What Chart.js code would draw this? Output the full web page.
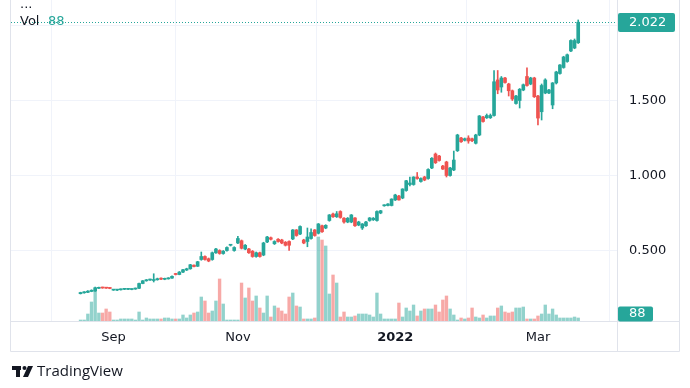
<!DOCTYPE html>
<html><head><meta charset="utf-8">
<script src="https://cdn.jsdelivr.net/npm/chart.js@4.4.1/dist/chart.umd.min.js"></script>
<style>html,body{margin:0;padding:0;background:#fff;overflow:hidden}#wrap{width:690px;height:388px;position:relative}</style>
</head><body><div id="wrap"><canvas id="c" width="690" height="388"></canvas></div>
<script>
// ---- data (daily bars, index 0 = first bar) ----
const opens  = [.212,.218,.221,.227,.230,.248,.253,.252,.250,.236,.236,.238,.241,.241,.240,.243,.248,.280,.298,.303,.300,.305,.315,.308,.311,.316,.345,.340,.356,.370,.378,.402,.395,.440,.460,.445,.440,.485,.500,.480,.500,.535,.500,.550,.565,.510,.510,.495,.460,.485,.470,.557,.585,.545,.575,.570,.555,.560,.577,.637,.610,.570,.560,.580,.637,.615,.665,.650,.700,.743,.725,.760,.715,.690,.690,.717,.670,.650,.665,.700,.705,.700,.750,.798,.800,.800,.837,.863,.850,.900,.940,.940,.990,.960,.990,.980,1.050,1.143,1.130,1.063,1.090,1.000,1.037,1.165,1.250,1.235,1.250,1.245,1.215,1.270,1.390,1.385,1.385,1.400,1.637,1.590,1.650,1.610,1.565,1.480,1.500,1.570,1.660,1.610,1.650,1.530,1.425,1.550,1.550,1.470,1.617,1.680,1.720,1.760,1.830,1.850,1.885];
const highs  = [.222,.226,.232,.238,.256,.256,.256,.255,.253,.241,.240,.244,.246,.246,.244,.250,.282,.300,.307,.309,.345,.316,.318,.316,.319,.331,.348,.360,.375,.382,.408,.405,.428,.490,.465,.450,.490,.515,.505,.500,.525,.540,.525,.595,.570,.540,.515,.500,.490,.490,.555,.595,.590,.565,.580,.575,.560,.565,.640,.640,.665,.575,.650,.645,.640,.680,.670,.672,.740,.750,.760,.765,.720,.720,.740,.720,.695,.680,.695,.720,.720,.765,.768,.805,.812,.845,.875,.867,.912,.968,.990,.992,1.020,.985,.995,1.045,1.120,1.150,1.135,1.068,1.095,1.055,1.163,1.275,1.255,1.250,1.265,1.250,1.275,1.400,1.395,1.410,1.410,1.700,1.700,1.660,1.655,1.615,1.570,1.535,1.580,1.610,1.717,1.655,1.655,1.535,1.610,1.645,1.575,1.620,1.695,1.740,1.795,1.810,1.905,1.910,2.037];
const lows   = [.210,.215,.219,.225,.228,.246,.248,.247,.245,.234,.233,.236,.239,.239,.238,.241,.246,.278,.295,.300,.290,.302,.305,.305,.309,.314,.337,.338,.353,.366,.375,.390,.393,.435,.435,.425,.435,.480,.475,.475,.495,.530,.495,.545,.510,.505,.480,.455,.455,.455,.465,.552,.570,.540,.555,.545,.530,.500,.572,.595,.605,.545,.525,.575,.595,.610,.620,.645,.695,.720,.720,.715,.683,.685,.685,.660,.665,.640,.660,.695,.700,.695,.745,.795,.797,.797,.833,.835,.845,.895,.930,.935,.975,.955,.965,.975,1.045,1.080,1.095,1.040,.990,.995,1.032,1.160,1.220,1.230,1.215,1.225,1.210,1.265,1.355,1.380,1.380,1.395,1.545,1.555,1.615,1.530,1.500,1.475,1.450,1.565,1.595,1.605,1.520,1.337,1.370,1.545,1.545,1.445,1.610,1.675,1.715,1.755,1.825,1.845,1.880];
const closes = [.220,.222,.229,.235,.252,.252,.250,.249,.247,.239,.238,.242,.244,.243,.242,.248,.280,.298,.304,.306,.305,.312,.309,.312,.316,.328,.340,.356,.372,.378,.405,.393,.425,.460,.440,.430,.485,.510,.480,.495,.520,.537,.520,.580,.515,.535,.485,.460,.485,.460,.550,.590,.575,.560,.560,.550,.535,.535,.637,.600,.660,.550,.590,.620,.600,.677,.625,.668,.737,.725,.745,.720,.690,.715,.737,.665,.690,.677,.690,.717,.715,.760,.765,.802,.810,.843,.870,.837,.910,.965,.950,.990,.980,.980,.970,1.040,1.115,1.085,1.100,1.043,1.000,1.050,1.103,1.270,1.225,1.245,1.230,1.232,1.270,1.397,1.360,1.400,1.400,1.625,1.570,1.650,1.620,1.565,1.510,1.530,1.575,1.605,1.600,1.650,1.525,1.383,1.600,1.637,1.570,1.617,1.690,1.737,1.790,1.805,1.900,1.900,2.022];
const volumes = [29,29,205,557,908,234,234,352,264,29,29,59,59,59,59,29,264,29,88,59,59,59,59,88,88,59,59,59,176,88,176,234,264,703,586,234,293,586,1231,498,29,29,29,29,1113,674,967,586,733,381,234,733,117,440,381,293,205,703,820,440,410,59,59,59,88,2461,2373,2198,791,1348,1113,117,264,117,117,147,205,205,205,176,117,820,205,59,59,59,59,527,117,381,293,469,147,293,352,352,352,469,264,615,733,352,176,29,88,59,88,381,117,88,176,88,147,147,381,440,264,234,264,381,381,410,59,59,59,147,205,469,205,352,176,88,88,88,88,117,88];
const timeTickBars   = [9, 43, 86, 125];
const timeTickLabels = ['Sep', 'Nov', '2022', 'Mar'];
const priceTicks     = [0.5, 1.0, 1.5, 2.0];

// ---- styling ----
const UP = '#26a69a', DOWN = '#ef5350';
const UPV = 'rgba(38,166,154,0.5)', DOWNV = 'rgba(239,83,80,0.5)';
const TXT = '#131722', GRID = '#f0f3fa', FRAME = '#e0e3eb';
const FONT = '"DejaVu Sans", sans-serif';

const idx = opens.map((_, i) => i);
const up = i => closes[i] >= opens[i];
const last = closes.length - 1;

const overlay = {
  id: 'overlay',
  afterDraw(chart) {
    const c = chart.ctx, ys = chart.scales.y, yv = chart.scales.yv, a = chart.chartArea;
    c.save();
    // frame
    c.strokeStyle = FRAME; c.lineWidth = 1;
    c.beginPath();
    c.moveTo(10.5, 0); c.lineTo(10.5, 351.5); c.lineTo(679.5, 351.5); c.lineTo(679.5, 0);
    c.moveTo(a.right + 0.5, 0); c.lineTo(a.right + 0.5, 351.5);
    c.moveTo(10.5, a.bottom + 0.5); c.lineTo(679.5, a.bottom + 0.5);
    c.stroke();
    // price labels
    c.fillStyle = TXT; c.font = '13px ' + FONT; c.textBaseline = 'middle'; c.textAlign = 'left';
    priceTicks.forEach(v => { if (v < 1.9) c.fillText(v.toFixed(3), a.right + 12, ys.getPixelForValue(v)); });
    // last price dotted line
    const py = Math.round(ys.getPixelForValue(closes[last])) + 0.5;
    c.strokeStyle = UP; c.setLineDash([1, 2]);
    c.beginPath(); c.moveTo(a.left, py); c.lineTo(a.right, py); c.stroke();
    c.setLineDash([]);
    // price box
    c.fillStyle = UP;
    c.beginPath(); c.roundRect(a.right + 1, py - 9.5, 57, 19, 2); c.fill();
    c.fillStyle = '#fff'; c.fillText(closes[last].toFixed(3), a.right + 12, py);
    // volume box
    let vy = yv.getPixelForValue(volumes[last]);
    vy = Math.min(vy, a.bottom - 7);
    c.fillStyle = UP;
    c.beginPath(); c.roundRect(a.right + 1, vy - 7.5, 35, 15, 2); c.fill();
    c.fillStyle = '#fff'; c.fillText(String(volumes[last]), a.right + 12, vy);
    // legend
    c.fillStyle = TXT; c.font = '13px ' + FONT;
    c.fillText('...', 20, 5);
    c.fillText('Vol', 20, 22);
    c.fillStyle = UP; c.fillText(String(volumes[last]), 48, 22);
    // TradingView logo
    c.fillStyle = TXT;
    c.fillRect(12, 366, 9, 4);
    c.fillRect(16, 366, 4, 11);
    c.beginPath(); c.arc(24.5, 368, 2, 0, Math.PI * 2); c.fill();
    c.beginPath(); c.moveTo(28, 366); c.lineTo(33, 366); c.lineTo(28, 377); c.lineTo(23, 377); c.closePath(); c.fill();
    c.font = '15px "Open Sans", sans-serif';
    c.fillText('TradingView', 37, 372);
    c.restore();
  }
};

new Chart(document.getElementById('c').getContext('2d'), {
  type: 'bar',
  data: {
    datasets: [
      { label: 'Vol', yAxisID: 'yv', order: 3, grouped: false, barThickness: 2.7,
        data: idx.map(i => ({ x: i, y: volumes[i] })),
        backgroundColor: idx.map(i => up(i) ? UPV : DOWNV) },
      { label: 'wick', yAxisID: 'y', order: 2, grouped: false, barThickness: 1,
        data: idx.map(i => ({ x: i, y: [lows[i], highs[i]] })),
        backgroundColor: idx.map(i => up(i) ? UP : DOWN) },
      { label: 'body', yAxisID: 'y', order: 1, grouped: false, barThickness: 3, minBarLength: 1,
        data: idx.map(i => ({ x: i, y: [Math.min(opens[i], closes[i]), Math.max(opens[i], closes[i])] })),
        backgroundColor: idx.map(i => up(i) ? UP : DOWN) }
    ]
  },
  options: {
    responsive: false, animation: false, devicePixelRatio: 1,
    layout: { padding: { left: 11, right: 10, top: 0, bottom: 36 } },
    plugins: { legend: { display: false }, tooltip: { enabled: false } },
    scales: {
      x: {
        type: 'linear', min: -19, max: 146.6, offset: false,
        grid: { color: GRID, drawTicks: false }, border: { display: false },
        afterBuildTicks: s => { s.ticks = timeTickBars.map(v => ({ value: v })); },
        afterFit: s => { s.height = 31; },
        ticks: {
          autoSkip: false, maxRotation: 0, padding: 9, color: TXT,
          font: ctx => ({ family: FONT, size: 13, weight: (ctx.tick && ctx.tick.value === timeTickBars[2]) ? 'bold' : 'normal' }),
          callback: v => timeTickLabels[timeTickBars.indexOf(v)]
        }
      },
      y: {
        position: 'right', min: 0.03, max: 2.17,
        grid: { color: GRID, drawTicks: false }, border: { display: false },
        ticks: { display: false },
        afterBuildTicks: s => { s.ticks = priceTicks.map(v => ({ value: v })); },
        afterFit: s => { s.width = 63; }
      },
      yv: { display: false, min: 0, max: 9405 }
    }
  },
  plugins: [overlay]
});
</script>
</body></html>
